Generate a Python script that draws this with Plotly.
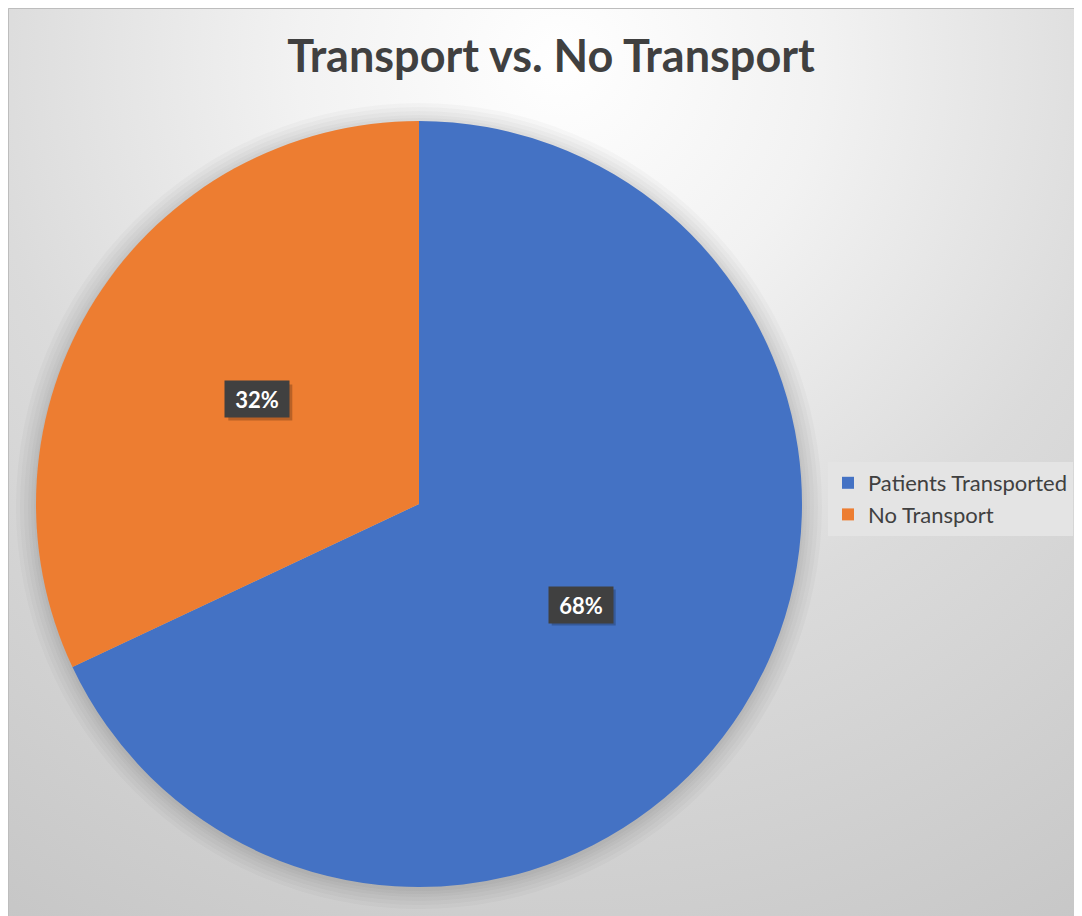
import numpy as np
import plotly.graph_objects as go

labels = ["Patients Transported", "No Transport"]
values = [68, 32]
colors = ["#4472c4", "#ed7d31"]
title = "Transport vs. No Transport"

W, H = 1082, 916
OFF = 8  # page body margin the figure sits in


def px(X):
    return (X - OFF) / W


def py(Y):
    return 1 - (Y - OFF) / H


# pie placement (screen pixels -> paper)
pie_cx, pie_cy, pie_r = 419, 504, 383
pie_x = [px(pie_cx - pie_r), px(pie_cx + pie_r)]
pie_y = [py(pie_cy + pie_r), py(pie_cy - pie_r)]

fig = go.Figure()

# radial gradient background, lightest near the title
gx, gy, gr = 560, 60, 1050
fig.add_trace(go.Scatter(
    x=[gx - gr, gx + gr, gx + gr, gx - gr, gx - gr],
    y=[gy - gr, gy - gr, gy + gr, gy + gr, gy - gr],
    mode="lines", fill="toself",
    line=dict(width=0),
    fillgradient=dict(type="radial",
                      colorscale=[[0, "#ffffff"], [0.25, "#f2f2f2"],
                                  [0.55, "#dbdbdb"], [1, "#c5c5c5"]]),
    hoverinfo="skip", showlegend=False))

# soft shadow under the pie
spread = [2, 5, 8, 12, 16, 20]
fig.add_trace(go.Scatter(
    x=[pie_cx] * len(spread), y=[pie_cy + 2] * len(spread),
    mode="markers",
    marker=dict(size=[2 * pie_r + 2 * s for s in spread],
                color="rgba(0,0,0,0.035)", line=dict(width=0)),
    hoverinfo="skip", showlegend=False))

fig.add_trace(go.Pie(
    labels=labels, values=values,
    marker=dict(colors=colors, line=dict(width=0)),
    sort=False, direction="clockwise", rotation=0,
    textinfo="none", hoverinfo="label+percent",
    domain=dict(x=pie_x, y=pie_y)))

# data labels at half radius, like Excel's "center" position
bw, bh = 64, 36  # label box size in px
vals = np.array(values, dtype=float)
frac = vals / vals.sum()
mid = (np.cumsum(frac) - frac / 2) * 2 * np.pi
cx, cy = sum(pie_x) / 2, sum(pie_y) / 2
rx, ry = (pie_x[1] - pie_x[0]) / 2, (pie_y[1] - pie_y[0]) / 2
for a, f in zip(mid, frac):
    lx = cx + 0.5 * rx * np.sin(a)
    ly = cy + 0.5 * ry * np.cos(a) + 2 / H
    # drop shadow behind the label box
    fig.add_shape(type="rect", xref="paper", yref="paper",
                  x0=lx + (3 - bw / 2) / W, x1=lx + (3 + bw / 2) / W,
                  y0=ly - (3 + bh / 2) / H, y1=ly - (3 - bh / 2) / H,
                  fillcolor="rgba(0,0,0,0.22)", line=dict(width=0))
    fig.add_annotation(x=lx, y=ly, xref="paper", yref="paper",
                       text="<b>%d%%</b>" % round(f * 100),
                       xanchor="center", yanchor="middle",
                       showarrow=False, width=bw - 10, height=bh - 10,
                       font=dict(family="Lato", size=22, color="white"),
                       bgcolor="#404040", borderpad=5)

fig.add_shape(type="rect", xref="paper", yref="paper",
              x0=0.5 / W, x1=1.01, y0=-0.01, y1=1 - 0.5 / H,
              line=dict(color="#bdbdbd", width=1))

fig.update_layout(
    width=W, height=H,
    margin=dict(l=0, r=0, t=0, b=0),
    paper_bgcolor="white", plot_bgcolor="rgba(0,0,0,0)",
    title=dict(text="<b>" + title + "</b>", x=px(551), xanchor="center",
               y=py(56), yanchor="middle",
               font=dict(family="Lato", size=45, color="#404040")),
    xaxis=dict(range=[OFF, OFF + W], domain=[0, 1], visible=False, fixedrange=True),
    yaxis=dict(range=[OFF + H, OFF], domain=[0, 1], visible=False, fixedrange=True),
    legend=dict(x=px(828), y=py(462), xanchor="left", yanchor="top",
                bgcolor="#e4e4e4", font=dict(family="Lato", size=22, color="#404040"),
                itemwidth=30),
    showlegend=True,
)

fig.write_html("out.html")
